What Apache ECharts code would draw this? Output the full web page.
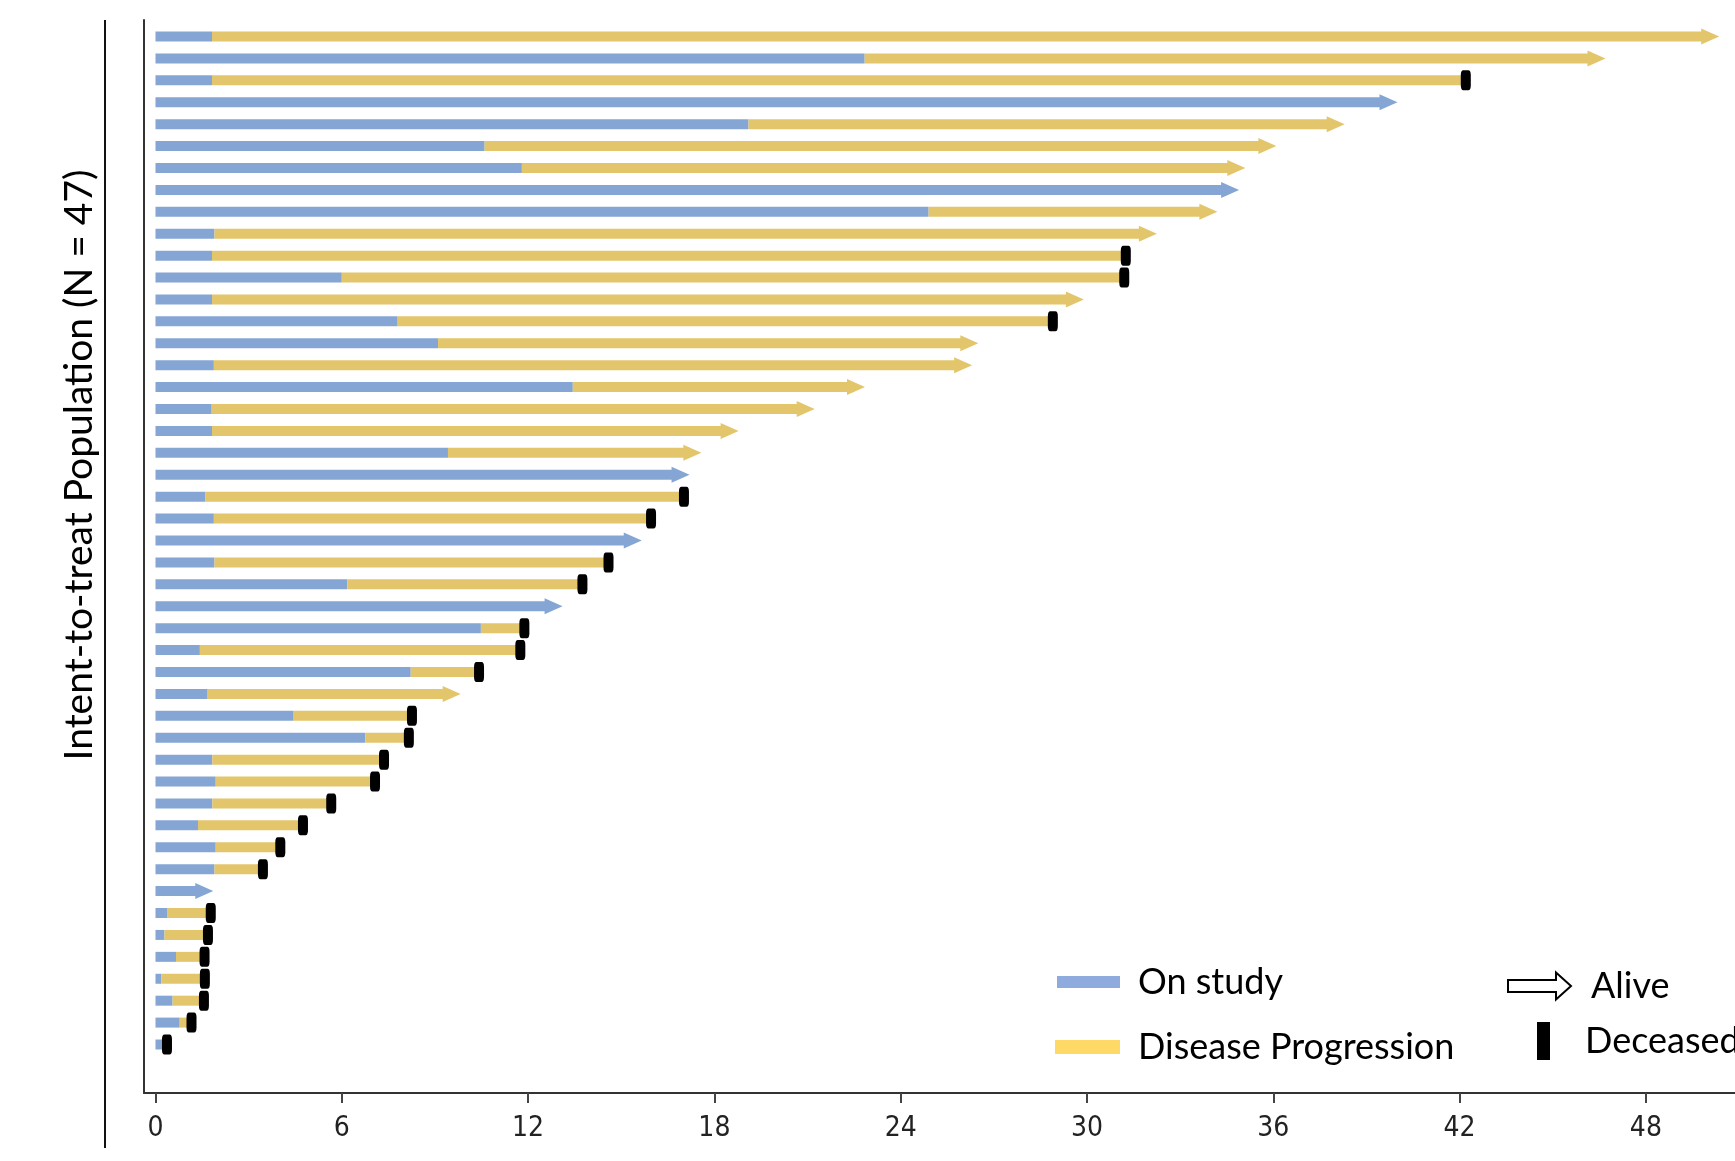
<!DOCTYPE html>
<html>
<head>
<meta charset="utf-8">
<script src="https://cdn.jsdelivr.net/npm/echarts@6/dist/echarts.min.js"></script>
<style>
html,body{margin:0;padding:0;background:#fff;}
#chart{width:1735px;height:1161px;}
</style>
</head>
<body>
<div id="chart"></div>
<script>
// ---- Data (one row per patient, top to bottom) ----
// Time (months) at end of "On study" phase (progression time, or end of follow-up if no progression)
const onStudyEnd = [1.82, 22.84, 1.82, 40.0, 19.1, 10.6, 11.8, 34.9, 24.9, 1.9,
  1.82, 6.0, 1.82, 7.8, 9.1, 1.88, 13.44, 1.81, 1.82, 9.42,
  17.2, 1.61, 1.88, 15.66, 1.9, 6.18, 13.11, 10.48, 1.43, 8.22,
  1.68, 4.45, 6.76, 1.83, 1.94, 1.83, 1.37, 1.94, 1.9, 1.86,
  0.39, 0.29, 0.66, 0.19, 0.55, 0.78, 0.23];
// Total follow-up time (months)
const followUp = [50.36, 46.7, 42.2, 40.0, 38.3, 36.1, 35.1, 34.9, 34.2, 32.25,
  31.25, 31.2, 29.9, 28.9, 26.5, 26.3, 22.85, 21.23, 18.78, 17.58,
  17.2, 17.02, 15.96, 15.66, 14.59, 13.75, 13.11, 11.88, 11.75, 10.42,
  9.83, 8.26, 8.16, 7.36, 7.07, 5.66, 4.75, 4.02, 3.46, 1.86,
  1.78, 1.69, 1.58, 1.59, 1.56, 1.16, 0.37];
// Status at end of follow-up
const status = ['Alive','Alive','Deceased','Alive','Alive','Alive','Alive','Alive','Alive','Alive',
  'Deceased','Deceased','Alive','Deceased','Alive','Alive','Alive','Alive','Alive','Alive',
  'Alive','Deceased','Deceased','Alive','Deceased','Deceased','Alive','Deceased','Deceased','Deceased',
  'Alive','Deceased','Deceased','Deceased','Deceased','Deceased','Deceased','Deceased','Deceased','Alive',
  'Deceased','Deceased','Deceased','Deceased','Deceased','Deceased','Deceased'];
const xTicks = [0, 6, 12, 18, 24, 30, 36, 42, 48];
const seriesNames = ['On study', 'Disease Progression', 'Alive', 'Deceased'];
const yTitle = 'Intent-to-treat Population (N = 47)';

// ---- Styling ----
const BLUE = '#85A6D4', YELLOW = '#E3C66B';
const BAR_H = 10, ARROW_LEN = 18, ARROW_HALF = 8;
const N = followUp.length;

const blueData = [], yellowData = [], aliveData = [], deadData = [];
for (let i = 0; i < N; i++) {
  const y = N - i;
  const alive = status[i] === 'Alive';
  const progressed = followUp[i] > onStudyEnd[i] + 1e-9;
  blueData.push([0, onStudyEnd[i], y, (alive && !progressed) ? 1 : 0]);
  if (progressed) yellowData.push([onStudyEnd[i], followUp[i], y, alive ? 1 : 0]);
  if (alive) aliveData.push([followUp[i], y, progressed ? 1 : 0]);
  else deadData.push([followUp[i], y]);
}

function segRender(params, api) {
  const p0 = api.coord([api.value(0), api.value(2)]);
  const p1 = api.coord([api.value(1), api.value(2)]);
  const x2 = p1[0] - (api.value(3) ? ARROW_LEN - 1 : 0);
  return {
    type: 'rect',
    shape: { x: p0[0], y: p0[1] - BAR_H / 2, width: Math.max(0, x2 - p0[0]), height: BAR_H },
    style: { fill: api.visual('color') }
  };
}
function arrowRender(params, api) {
  const p = api.coord([api.value(0), api.value(1)]);
  const fill = api.value(2) ? YELLOW : BLUE;
  return {
    type: 'polygon',
    shape: { points: [[p[0], p[1]], [p[0] - ARROW_LEN, p[1] - ARROW_HALF], [p[0] - ARROW_LEN, p[1] + ARROW_HALF]] },
    style: { fill: fill }
  };
}

const chart = echarts.init(document.getElementById('chart'), null, { renderer: 'canvas' });
const legendFont = { fontFamily: 'Lato', fontSize: 36, color: '#000', lineHeight: 40 };
chart.setOption({
  animation: false,
  backgroundColor: '#fff',
  grid: { left: 144, right: 0, top: 20, bottom: 68 },
  xAxis: {
    type: 'value', min: -0.37, max: 50.87,
    axisLine: { show: true, onZero: false, lineStyle: { color: '#333', width: 2 } },
    axisTick: { show: true, customValues: xTicks, length: 10, lineStyle: { color: '#444', width: 2 } },
    axisLabel: { show: true, customValues: xTicks, margin: 22,
      fontFamily: '"DejaVu Sans Condensed", "Liberation Sans Narrow", "Liberation Sans", sans-serif', fontSize: 28, color: '#222' },
    splitLine: { show: false }
  },
  yAxis: {
    type: 'value', min: -1.213, max: 47.753,
    axisLine: { show: true, onZero: false, lineStyle: { color: '#333', width: 2 } },
    axisTick: { show: false }, axisLabel: { show: false }, splitLine: { show: false }
  },
  legend: [
    { data: [seriesNames[0]], left: 1057, top: 962, padding: 0, itemWidth: 63, itemHeight: 12, icon: 'rect',
      itemStyle: { color: '#8FAADC' }, textStyle: Object.assign({ padding: [0, 0, 0, 13] }, legendFont), selectedMode: false },
    { data: [seriesNames[1]], left: 1055, top: 1027, padding: 0, itemWidth: 65, itemHeight: 14, icon: 'rect',
      itemStyle: { color: '#FFD966' }, textStyle: Object.assign({ padding: [0, 0, 0, 13] }, legendFont), selectedMode: false },
    { data: [seriesNames[2]], left: 1507, top: 957, padding: 0, itemWidth: 63, itemHeight: 27,
      icon: 'path://M0,7.5 L48,7.5 L48,0 L63,13.5 L48,27 L48,19.5 L0,19.5 Z',
      itemStyle: { color: '#fff', borderColor: '#000', borderWidth: 2 },
      textStyle: Object.assign({}, legendFont, { padding: [18, 0, 0, 15] }), selectedMode: false },
    { data: [seriesNames[3]], left: 1537, top: 1019, padding: 0, itemWidth: 13, itemHeight: 38, icon: 'rect',
      itemStyle: { color: '#000' }, textStyle: Object.assign({}, legendFont, { padding: [4, 0, 0, 30] }), selectedMode: false }
  ],
  graphic: [
    { type: 'line', shape: { x1: 105, y1: 20, x2: 105, y2: 1148 }, style: { stroke: '#111', lineWidth: 2 } },
    { type: 'text', x: 79, y: 465, rotation: Math.PI / 2,
      style: { text: yTitle, fontFamily: 'Lato', fontSize: 39, fill: '#000', align: 'center', verticalAlign: 'middle' } }
  ],
  series: [
    { name: seriesNames[0], type: 'custom', renderItem: segRender, data: blueData, itemStyle: { color: BLUE },
      encode: { x: [0, 1], y: 2 }, z: 2 },
    { name: seriesNames[1], type: 'custom', renderItem: segRender, data: yellowData, itemStyle: { color: YELLOW },
      encode: { x: [0, 1], y: 2 }, z: 2 },
    { name: seriesNames[2], type: 'custom', renderItem: arrowRender, data: aliveData, itemStyle: { color: '#000' },
      encode: { x: 0, y: 1 }, z: 3 },
    { name: seriesNames[3], type: 'scatter', data: deadData, symbol: 'roundRect', symbolSize: [10, 20],
      itemStyle: { color: '#000', opacity: 1 }, z: 4 }
  ]
});
</script>
</body>
</html>
